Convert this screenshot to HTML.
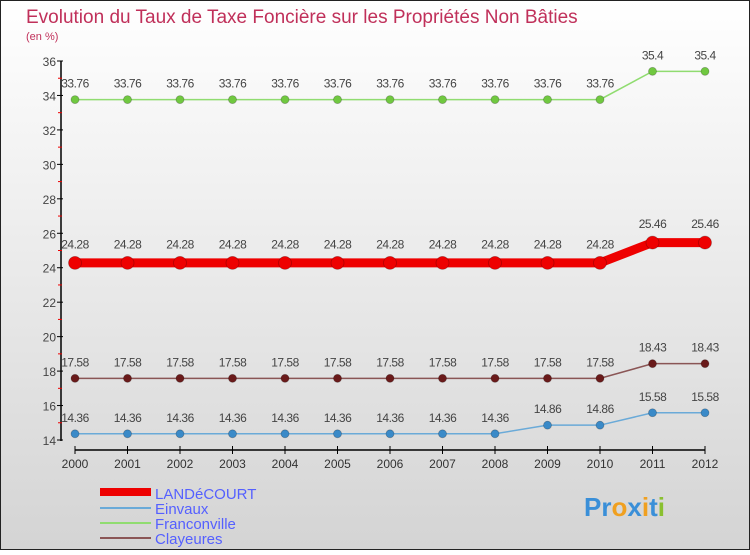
<!DOCTYPE html>
<html><head><meta charset="utf-8"><style>
body{margin:0;width:750px;height:550px;overflow:hidden;font-family:"Liberation Sans",sans-serif}
</style></head><body>
<svg width="750" height="550" xmlns="http://www.w3.org/2000/svg">
<defs><linearGradient id="bg" x1="0" y1="0" x2="0" y2="1"><stop offset="0" stop-color="#ffffff"/><stop offset="1" stop-color="#d4d4d4"/></linearGradient></defs>
<rect x="0.5" y="0.5" width="749" height="549" fill="url(#bg)" stroke="#222"/>
<text x="26" y="23" font-size="19" fill="#c0305a">Evolution du Taux de Taxe Foncière sur les Propriétés Non Bâties</text>
<text x="26" y="40" font-size="11" fill="#c0305a">(en %)</text>
<g id="axes"></g><g id="series"></g>
<g font-size="15" fill="#5560ff">
<rect x="100" y="488" width="51" height="8" fill="#e00"/>
<text x="155" y="499">LANDéCOURT</text>
<rect x="100" y="507" width="51" height="2" fill="#6aaad8"/>
<text x="155" y="514">Einvaux</text>
<rect x="100" y="522" width="51" height="2" fill="#90dc70"/>
<text x="155" y="529">Franconville</text>
<rect x="100" y="537" width="51" height="2" fill="#8a5555"/>
<text x="155" y="544">Clayeures</text>
</g>
<g font-size="26" font-weight="bold">
<text x="584" y="516"><tspan fill="#3a8fd8">Pr</tspan><tspan fill="#f0a020">o</tspan><tspan fill="#3a8fd8">x</tspan><tspan fill="#f0a020">i</tspan><tspan fill="#3a8fd8">t</tspan><tspan fill="#8ac030">i</tspan></text>
</g>
</svg>
<script>
const years=[2000,2001,2002,2003,2004,2005,2006,2007,2008,2009,2010,2011,2012];
const landecourt=[24.28,24.28,24.28,24.28,24.28,24.28,24.28,24.28,24.28,24.28,24.28,25.46,25.46];
const einvaux=[14.36,14.36,14.36,14.36,14.36,14.36,14.36,14.36,14.36,14.86,14.86,15.58,15.58];
const franconville=[33.76,33.76,33.76,33.76,33.76,33.76,33.76,33.76,33.76,33.76,33.76,35.4,35.4];
const clayeures=[17.58,17.58,17.58,17.58,17.58,17.58,17.58,17.58,17.58,17.58,17.58,18.43,18.43];
const yTicks=[14,16,18,20,22,24,26,28,30,32,34,36];
const NS="http://www.w3.org/2000/svg";
const xs=i=>75+i*52.5, ys=v=>440-(v-14)*(379/22);
function mk(p,t,a){const e=document.createElementNS(NS,t);for(const k in a)e.setAttribute(k,a[k]);p.appendChild(e);return e;}
const ax=document.getElementById('axes'), sg=document.getElementById('series');
let l=mk(ax,'line',{x1:61,y1:61,x2:61,y2:441,stroke:'#000','stroke-width':1.5});


l=mk(ax,'line',{x1:75,y1:450,x2:705,y2:450,stroke:'#000','stroke-width':1.5});


yTicks.forEach((v,i)=>{
 const y=ys(v);
 mk(ax,'line',{x1:57,y1:y,x2:63,y2:y,stroke:'#000'});
 if(i<yTicks.length-1){mk(ax,'line',{x1:58,y1:ys(v+1),x2:62,y2:ys(v+1),stroke:'#e00'});}
 const t=mk(ax,'text',{x:56,y:y+5,'font-size':12,fill:'#444','text-anchor':'end'});t.textContent=v;
 
 
});
years.forEach((yr,i)=>{
 mk(ax,'line',{x1:xs(i),y1:446,x2:xs(i),y2:454,stroke:'#000'});
 const t=mk(ax,'text',{x:xs(i),y:468,'font-size':12,fill:'#333','text-anchor':'middle'});t.textContent=yr;
 
 
});
function series(name,data,color,dot,w,r,fmt){
 const g=mk(sg,'g',{});
 
 
 const pl=mk(g,'polyline',{points:data.map((v,i)=>xs(i)+','+ys(v)).join(' '),fill:'none',stroke:color,'stroke-width':w});
 
 
 data.forEach((v,i)=>{
  const c=mk(g,'circle',{cx:xs(i),cy:ys(v),r:r,fill:dot,stroke:'rgba(0,0,0,0.25)','stroke-width':0.8});
  
  
  const t=mk(g,'text',{x:xs(i),y:ys(v)-(r+8),'font-size':12,fill:'#444','text-anchor':'middle','letter-spacing':'-0.5'});
  t.textContent=String(v).replace('.', '.');
  
  
 });
}
series('franconville',franconville,'#90dc70','#70c840',1.5,4);
series('landecourt',landecourt,'#ee0000','#ee0000',9,6.5);
series('clayeures',clayeures,'#8a5555','#6a1a1a',1.5,4);
series('einvaux',einvaux,'#6aaad8','#3a8ac8',1.5,4);
</script>
</body></html>
